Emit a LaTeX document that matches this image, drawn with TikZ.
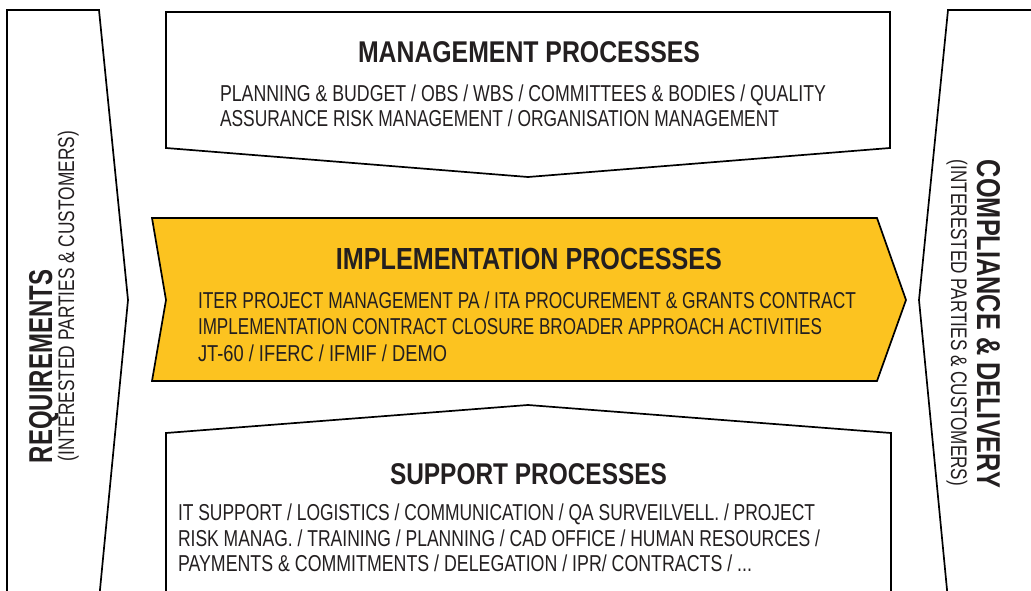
\documentclass[tikz,border=0pt]{standalone}
\usepackage{fontspec}
\setmainfont{Liberation Sans}
\usepackage{graphicx}
\definecolor{ityellow}{RGB}{252,195,32}
\definecolor{ink}{RGB}{35,31,32}
\newcommand\fitline[3]{\resizebox{#1pt}{\height}{\fontsize{#2}{#2}\selectfont #3}}
\newcommand\fitbold[3]{\resizebox{#1pt}{\height}{\fontsize{#2}{#2}\selectfont\bfseries #3}}
\tikzset{
  outline/.style={draw=black, line width=1.7pt, line join=miter},
  txt/.style={inner sep=0pt, outer sep=0pt, anchor=base west, text=ink},
  ttl/.style={inner sep=0pt, outer sep=0pt, anchor=base, text=ink},
}
\begin{document}
\begin{tikzpicture}[x=1pt, y=-1pt]
\useasboundingbox (0,0) rectangle (1031,591);
\fill[white] (0,0) rectangle (1031,591);
\begin{scope}
\clip (0,0) rectangle (1031,591);
% left requirements arrow
\draw[outline, fill=white] (7,10) -- (99,10) -- (128,300) -- (99,600) -- (7,600) -- cycle;
% right compliance shape
\draw[outline, fill=white] (948,10) -- (1045,10) -- (1045,600) -- (948,600) -- (919,300) -- cycle;
% management box
\draw[outline, fill=white] (166,12) -- (890,12) -- (890,148) -- (528,177) -- (166,148) -- cycle;
% implementation arrow
\draw[outline, fill=ityellow] (152,218) -- (877,218) -- (906,300) -- (877,381) -- (152,381) -- (166,300) -- cycle;
% support box
\draw[outline, fill=white] (166,600) -- (166,433) -- (528,405) -- (891,433) -- (891,600);
\end{scope}

% management text
\node[ttl] (mt) at (529,62.5) {\fitbold{342}{30}{MANAGEMENT PROCESSES}};
\node[txt] (m1) at (220,102) {\fitline{606}{23}{PLANNING \& BUDGET / OBS / WBS / COMMITTEES \& BODIES / QUALITY}};
\node[txt] (m2) at (220,127) {\fitline{559}{23}{ASSURANCE RISK MANAGEMENT / ORGANISATION MANAGEMENT}};

% implementation text
\node[ttl] (it) at (529,269.5) {\fitbold{386}{30.5}{IMPLEMENTATION PROCESSES}};
\node[txt] (i1) at (198,308) {\fitline{658}{23}{ITER PROJECT MANAGEMENT PA / ITA PROCUREMENT \& GRANTS CONTRACT}};
\node[txt] (i2) at (198,334.5) {\fitline{624}{23}{IMPLEMENTATION CONTRACT CLOSURE BROADER APPROACH ACTIVITIES}};
\node[txt] (i3) at (198,361) {\fitline{249}{23}{JT-60 / IFERC / IFMIF / DEMO}};

% support text
\node[ttl] (st) at (528.5,484) {\fitbold{277}{30}{SUPPORT PROCESSES}};
\node[txt] (s1) at (178,520) {\fitline{637}{23}{IT SUPPORT / LOGISTICS / COMMUNICATION / QA SURVEILVELL. / PROJECT}};
\node[txt] (s2) at (178,546) {\fitline{642}{23}{RISK MANAG. / TRAINING / PLANNING / CAD OFFICE / HUMAN RESOURCES /}};
\node[txt] (s3) at (178,571) {\fitline{574}{23}{PAYMENTS \& COMMITMENTS / DELEGATION / IPR/ CONTRACTS / ...}};

% left vertical text
\node[txt, rotate=90] (rq) at (52,463) {\fitbold{193}{33}{REQUIREMENTS}};
\node[txt, rotate=90] (rqs) at (74,461) {\fitline{330}{22.5}{(INTERESTED PARTIES \& CUSTOMERS)}};

% right vertical text
\node[txt, rotate=-90] (cd) at (977,160) {\fitbold{328}{33}{COMPLIANCE \& DELIVERY}};
\node[txt, rotate=-90] (cds) at (951,160) {\fitline{326}{22.5}{(INTERESTED PARTIES \& CUSTOMERS)}};
\end{tikzpicture}
\end{document}
